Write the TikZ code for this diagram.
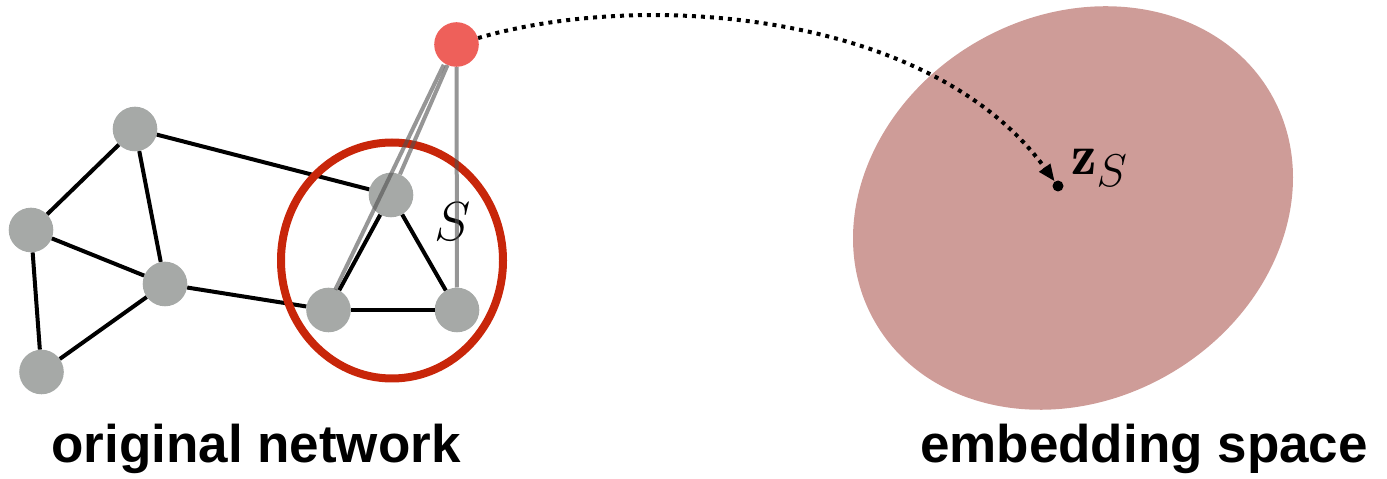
\RequirePackage{fix-cm}
\documentclass[tikz,border=0pt]{standalone}
\usepackage{graphicx}
\usepackage{fontspec}
\newfontfamily\capfont{Liberation Sans}
\usetikzlibrary{arrows.meta}
\definecolor{nodeGrey}{HTML}{A6A9A7}
\definecolor{hotRed}{HTML}{EE605A}
\definecolor{ringRed}{HTML}{C8260A}
\definecolor{embRose}{HTML}{CE9C98}
\definecolor{linkGrey}{HTML}{505050}

\begin{document}
\begin{tikzpicture}[x=1pt, y=1pt,
    vert/.style={circle, fill=nodeGrey, minimum size=44.6pt, inner sep=0pt},
    link/.style={line width=4pt, draw=black},
    ghost/.style={line width=4pt, draw=linkGrey, draw opacity=0.6},
    captxt/.style={font=\capfont\bfseries\fontsize{53}{60}\selectfont, anchor=base, inner sep=0pt},
    mathlab/.style={font=\fontsize{55}{60}\selectfont, inner sep=0pt}]
  \useasboundingbox (0,0) rectangle (1387,479);

  % ---------------- embedding space
  \fill[embRose, rotate around={30:(1073,271)}] (1073,271) ellipse (228.5 and 192);
  \node[circle, fill=black, minimum size=11pt, inner sep=0pt] (zs) at (1058,293) {};
  \node[mathlab, font=\fontsize{57}{60}\selectfont, anchor=base west] (zslab) at (1071,304)
       {$\mathbf{z}_{\scalebox{1.15}{$\scriptstyle S$}}$};

  % ---------------- original network
  \node[vert] (ga) at (135,350) {};
  \node[vert] (gb) at (31,249) {};
  \node[vert] (gc) at (165,195) {};
  \node[vert] (gd) at (41.5,107) {};
  \node[vert] (sa) at (391,284) {};
  \node[vert] (sb) at (328.5,169) {};
  \node[vert] (sc) at (457,169) {};
  \node[circle, fill=hotRed, minimum size=44.6pt, inner sep=0pt] (probe) at (456.5,434.5) {};
  \foreach \u/\v in {ga/gb, ga/gc, ga/sa, gb/gc, gb/gd, gd/gc, gc/sb, sa/sb, sa/sc, sb/sc}
    \draw[link] (\u) -- (\v);

  % subgraph S
  \draw[ringRed, line width=8pt] (392,218.5) ellipse (111 and 118);
  \node[mathlab] (slab) at (453,257) {$S$};

  % links of the new node into S
  \draw[ghost, transform canvas={xshift=-3pt}] (probe) -- (sb);
  \draw[ghost] (probe) -- (sa);
  \draw[ghost] (probe) -- (sc);

  % ---------------- mapping arrow
  \draw[line width=4pt, dash pattern=on 4pt off 5pt, -{Triangle[length=17pt,width=13pt]}]
    (probe) .. controls (640,489) and (930,469) .. (zs);

  % ---------------- captions
  \node[captxt] (orig) at (256,16) {original network};
  \node[captxt] (emb) at (1144,16) {embedding space};
\end{tikzpicture}
\end{document}
